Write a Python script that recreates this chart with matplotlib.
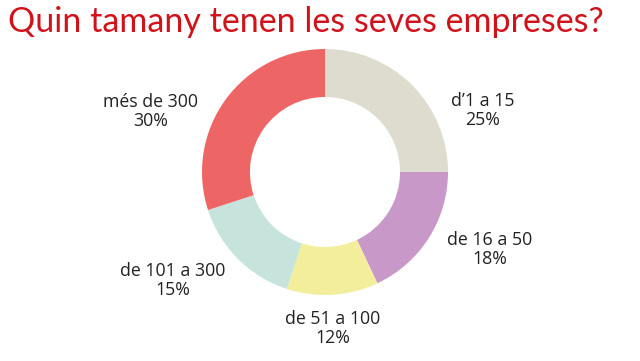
import matplotlib.pyplot as plt

categorias = ["d’1 a 15", "de 16 a 50", "de 51 a 100", "de 101 a 300", "més de 300"]
porcentajes = [25, 18, 12, 15, 30]
colores = ["#DDDCCF", "#C899C8", "#F3EE9C", "#C6E4DC", "#EE6565"]
# posiciones de las etiquetas (coordenadas del eje, radio = 1)
pos_etiquetas = [(1.28, 0.50), (1.34, -0.63), (0.06, -1.27), (-1.24, -0.88), (-1.42, 0.49)]

fig = plt.figure(figsize=(6.4, 3.61), dpi=100)
fig.text(8 / 640, 1 - 22 / 361, "Quin tamany tenen les seves empreses?", color="#D0121B",
         fontsize=24.5, family="Lato", va="center", ha="left")

ax = fig.add_axes([(325 - 123) / 640, (361 - 172 - 123) / 361, 246 / 640, 246 / 361])
ax.pie(porcentajes, colors=colores, startangle=90, counterclock=False, radius=1,
       wedgeprops=dict(width=0.39, edgecolor="none"))
ax.set_xlim(-1, 1)
ax.set_ylim(-1, 1)
ax.set_aspect("equal")
ax.axis("off")

for cat, pct, (x, y) in zip(categorias, porcentajes, pos_etiquetas):
    ax.text(x, y, f"{cat}\n{pct}%", ha="center", va="center", fontsize=12.8,
            family="Open Sans", color="#222222", linespacing=1.05, clip_on=False)

fig.savefig("out.png", dpi=100)
